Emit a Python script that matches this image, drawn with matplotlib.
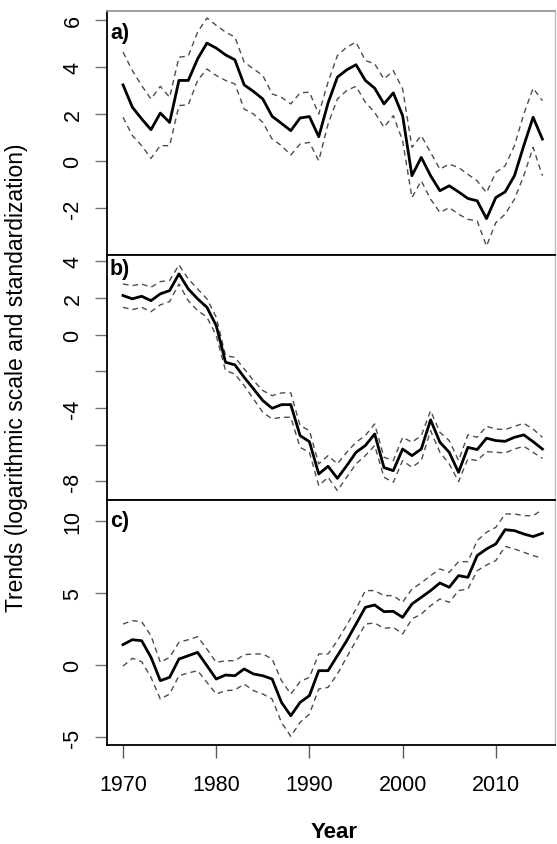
import matplotlib
matplotlib.use("Agg")
import matplotlib.pyplot as plt

plt.rcParams['font.family'] = ['Liberation Sans', 'DejaVu Sans']

years = list(range(1970, 2016))

# panel a)
a_mid = [3.25, 2.3, 1.8, 1.34, 2.05, 1.65, 3.44, 3.44, 4.36, 5.03,
         4.82, 4.53, 4.32, 3.25, 2.97, 2.65, 1.91, 1.61, 1.30, 1.84,
         1.90, 1.04, 2.48, 3.58, 3.89, 4.11, 3.44, 3.11, 2.44, 2.91,
         1.94, -0.62, 0.16, -0.62, -1.26, -1.05, -1.31, -1.59, -1.69, -2.45,
         -1.55, -1.31, -0.62, 0.66, 1.87, 0.94]
a_up = [4.65, 3.86, 3.22, 2.65, 3.19, 2.72, 4.43, 4.48, 5.5, 6.1,
        5.79, 5.5, 5.29, 4.22, 3.93, 3.65, 2.87, 2.72, 2.44, 2.91,
        2.94, 2.01, 3.37, 4.5, 4.86, 5.07, 4.29, 4.15, 3.5, 3.86,
        3.08, 0.59, 1.09, 0.37, -0.34, -0.13, -0.27, -0.56, -0.84, -1.34,
        -0.48, -0.2, 0.66, 2.01, 3.11, 2.58]
a_lo = [1.87, 1.09, 0.66, 0.12, 0.66, 0.66, 2.37, 2.4, 3.44, 3.93,
        3.65, 3.44, 3.29, 2.22, 2.01, 1.65, 0.94, 0.66, 0.26, 0.73,
        0.8, 0.02, 1.58, 2.65, 3.01, 3.19, 2.51, 2.08, 1.44, 1.94,
        0.87, -1.55, -0.84, -1.62, -2.19, -1.98, -2.26, -2.48, -2.55, -3.62,
        -2.62, -2.26, -1.62, -0.62, 0.59, -0.62]

# panel b)
b_mid = [2.13, 1.95, 2.09, 1.85, 2.22, 2.4, 3.31, 2.49, 1.95, 1.49,
         0.49, -1.51, -1.65, -2.33, -2.96, -3.6, -4.02, -3.82, -3.82, -5.51,
         -5.84, -7.6, -7.18, -7.84, -7.15, -6.42, -6.05, -5.42, -7.25, -7.42,
         -6.24, -6.6, -6.24, -4.65, -5.87, -6.42, -7.51, -6.15, -6.27, -5.65,
         -5.78, -5.82, -5.6, -5.47, -5.84, -6.24]
b_up = [2.76, 2.67, 2.76, 2.58, 2.89, 2.95, 3.8, 3.04, 2.49, 1.95,
        0.95, -1.15, -1.24, -1.87, -2.51, -3.05, -3.33, -3.18, -3.18, -4.96,
        -5.24, -7.05, -6.6, -7.05, -6.42, -5.87, -5.51, -4.87, -6.69, -6.87,
        -5.6, -5.87, -5.51, -4.15, -5.33, -5.78, -6.87, -5.47, -5.6, -5.0,
        -5.15, -5.18, -5.0, -4.84, -5.15, -5.6]
b_lo = [1.49, 1.36, 1.49, 1.25, 1.62, 1.8, 2.76, 1.85, 1.31, 0.95,
        -0.05, -1.96, -2.15, -2.78, -3.51, -4.24, -4.6, -4.51, -4.51, -6.15,
        -6.42, -8.24, -7.78, -8.51, -7.78, -7.05, -6.6, -6.05, -7.78, -8.05,
        -6.87, -7.24, -6.87, -5.24, -6.42, -7.05, -8.02, -6.78, -6.87, -6.38,
        -6.42, -6.45, -6.24, -6.09, -6.42, -6.75]

# panel c)
c_mid = [1.44, 1.78, 1.71, 0.56, -1.06, -0.83, 0.44, 0.67, 0.9, -0.02,
         -0.95, -0.67, -0.72, -0.25, -0.6, -0.72, -0.95, -2.57, -3.5, -2.57,
         -2.1, -0.37, -0.37, 0.67, 1.71, 2.87, 4.03, 4.19, 3.73, 3.75,
         3.33, 4.26, 4.72, 5.19, 5.72, 5.42, 6.23, 6.11, 7.62, 8.08,
         8.43, 9.42, 9.35, 9.12, 8.94, 9.17]
c_up = [2.87, 3.1, 3.03, 2.06, 0.21, 0.56, 1.6, 1.78, 1.99, 1.13,
        0.21, 0.32, 0.32, 0.74, 0.79, 0.79, 0.44, -1.06, -1.99, -1.13,
        -0.83, 0.79, 0.79, 1.71, 2.8, 3.91, 5.19, 5.19, 4.84, 4.84,
        4.38, 5.3, 5.72, 6.23, 6.69, 6.46, 7.2, 7.2, 8.66, 9.24,
        9.58, 10.51, 10.51, 10.39, 10.39, 10.81]
c_lo = [-0.05, 0.49, 0.25, -0.83, -2.34, -1.99, -0.72, -0.53, -0.37, -1.18,
        -1.99, -1.76, -1.71, -1.3, -1.76, -1.99, -2.34, -3.96, -4.93, -3.96,
        -3.38, -1.64, -1.53, -0.6, 0.56, 1.71, 2.87, 2.94, 2.57, 2.64,
        2.18, 3.22, 3.56, 4.14, 4.61, 4.38, 5.19, 5.3, 6.57, 6.97,
        7.27, 8.26, 8.08, 7.85, 7.62, 7.43]

panels = [
    ('a)', a_mid, a_up, a_lo, [-2, 0, 2, 4, 6], ['-2', '0', '2', '4', '6'], (-4.0, 6.4)),
    ('b)', b_mid, b_up, b_lo, [-8, -6, -4, -2, 0, 2, 4], ['-8', '', '-4', '', '0', '2', '4'], (-9.02, 4.34)),
    ('c)', c_mid, c_up, c_lo, [-5, 0, 5, 10], ['-5', '0', '5', '10'], (-5.53, 11.48)),
]

W, H = 557, 845
fig = plt.figure(figsize=(W / 100, H / 100), dpi=100)
edges = [12, 256, 501, 746]
label_y = [33, 270, 522]

for i, (lab, mid, up, lo, ticks, tlabels, ylim) in enumerate(panels):
    top, bot = edges[i], edges[i + 1]
    ax = fig.add_axes([107 / W, 1 - bot / H, 448 / W, (bot - top) / H])
    ax.plot(years, up, color='0.3', lw=1.0, dashes=(4, 3))
    ax.plot(years, lo, color='0.3', lw=1.0, dashes=(4, 3))
    ax.plot(years, mid, color='black', lw=2.0)
    ax.set_xlim(1968.28, 2016.35)
    ax.set_ylim(*ylim)
    ax.set_yticks(ticks)
    ax.set_yticklabels(tlabels, rotation=90, va='center')
    ax.tick_params(axis='y', direction='out', length=9, width=1, pad=8,
                   labelsize=15.5, colors='0.45', labelcolor='black')
    ax.tick_params(axis='x', direction='out', length=9, width=1, pad=12,
                   labelsize=15.5, colors='0.35', labelcolor='black')
    for s in ['left', 'bottom']:
        ax.spines[s].set_linewidth(1.3)
        ax.spines[s].set_color('black')
    ax.spines['top'].set_linewidth(1.3)
    ax.spines['top'].set_color('black' if i > 0 else '0.6')
    ax.spines['right'].set_color('0.75')
    ax.spines['right'].set_linewidth(1)
    ax.set_xticks([1970, 1980, 1990, 2000, 2010])
    if i < 2:
        ax.tick_params(axis='x', length=0, labelbottom=False)
    fig.text(110 / W, 1 - label_y[i] / H, lab, fontsize=15.5, fontweight='bold',
             ha='left', va='center')

fig.text(17 / W, 1 - 378 / H, 'Trends (logarithmic scale and standardization)',
         rotation=90, ha='center', va='center', fontsize=16.5)
fig.text(334 / W, 1 - 833 / H, 'Year', ha='center', va='center', fontsize=16,
         fontweight='bold')

fig.savefig('out.png', dpi=100)
